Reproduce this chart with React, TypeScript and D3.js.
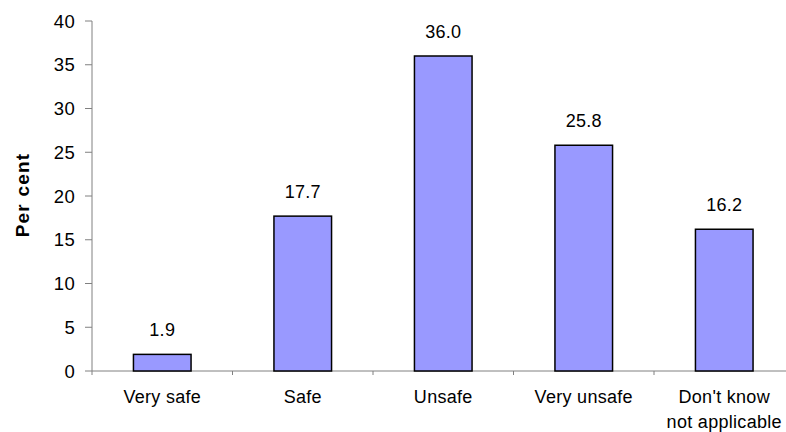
import React from "react";
import * as d3 from "d3";

const categories: string[][] = [["Very safe"], ["Safe"], ["Unsafe"], ["Very unsafe"], ["Don't know", "not applicable"]];
const values: number[] = [1.9, 17.7, 36.0, 25.8, 16.2];
const yTicks: number[] = [0, 5, 10, 15, 20, 25, 30, 35, 40];

const W = 786;
const H = 432;
const x0 = 92;
const bandW = 140.5;
const yTop = 21;
const yBot = 371;
const font = "'Liberation Sans', Arial, sans-serif";

export default function App() {
  const x = d3
    .scaleBand<number>()
    .domain(d3.range(categories.length))
    .range([x0, x0 + bandW * categories.length])
    .paddingInner(0.59)
    .paddingOuter(0.295);
  const xb = d3
    .scaleBand<number>()
    .domain(d3.range(categories.length))
    .range([x0, x0 + bandW * categories.length]);
  const y = d3.scaleLinear().domain([0, 40]).range([yBot, yTop]);

  return (
    <svg width={W} height={H} style={{ position: "absolute", left: 0, top: 0, display: "block" }}>
      <rect width={W} height={H} fill="#fff" />
      {/* Y axis */}
      <line x1={x0} x2={x0} y1={yTop} y2={yBot} stroke="#808080" strokeWidth={1} />
      {yTicks.map((t) => (
        <g key={t}>
          <line x1={x0 - 7} x2={x0} y1={y(t)} y2={y(t)} stroke="#808080" />
          <text x={75} y={y(t)} dy="0.36em" textAnchor="end" fontFamily={font} fontSize={18.5} letterSpacing={0.3} fill="#000">
            {t}
          </text>
        </g>
      ))}
      {/* X axis */}
      <line x1={x0} x2={x0 + bandW * categories.length} y1={yBot} y2={yBot} stroke="#808080" />
      {d3.range(categories.length + 1).map((i) => (
        <line key={i} x1={x0 + i * bandW} x2={x0 + i * bandW} y1={yBot} y2={yBot + 4} stroke="#808080" />
      ))}
      {values.map((v, i) => (
        <g key={i}>
          <rect
            x={x(i)!}
            y={y(v)}
            width={x.bandwidth()}
            height={yBot - y(v)}
            fill="#9999ff"
            stroke="#000"
            strokeWidth={1.5}
          />
          <text
            x={x(i)! + x.bandwidth() / 2}
            y={y(v) - 18}
            textAnchor="middle"
            fontFamily={font}
            fontSize={18}
            letterSpacing={0.3}
          >
            {v.toFixed(1)}
          </text>
        </g>
      ))}
      {categories.map((lines, i) =>
        lines.map((l, j) => (
          <text
            key={i + "-" + j}
            x={xb(i)! + xb.bandwidth() / 2}
            y={403 + j * 25}
            textAnchor="middle"
            fontFamily={font}
            fontSize={18}
            letterSpacing={0.3}
          >
            {l}
          </text>
        ))
      )}
      <text
        transform={`translate(29,195) rotate(-90)`}
        textAnchor="middle"
        fontFamily={font}
        fontSize={19}
        fontWeight="bold"
        letterSpacing={1.2}
      >
        Per cent
      </text>
    </svg>
  );
}
